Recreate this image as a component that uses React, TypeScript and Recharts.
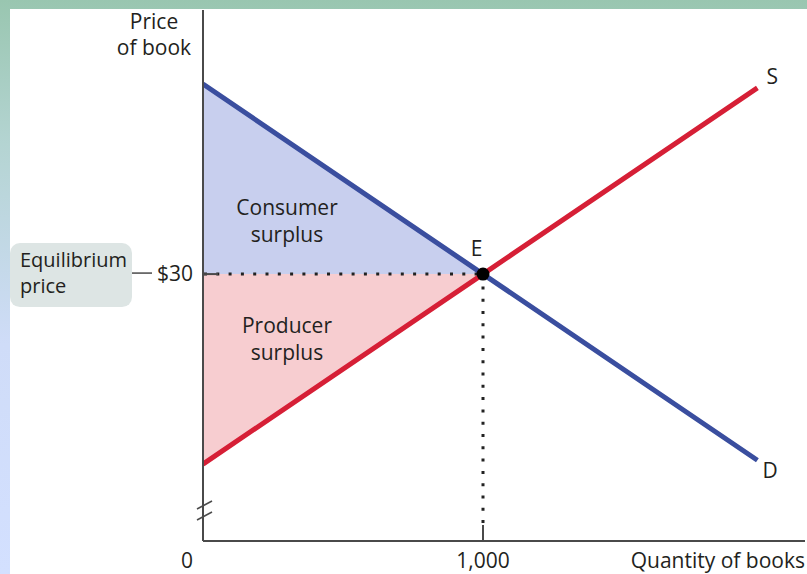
import { ComposedChart, Line, Area, XAxis, YAxis, ReferenceLine, ReferenceDot, Label } from 'recharts';

// quantity of books (x) and prices in $ (y)
const quantities = [0, 1000, 1980];
const demandPrices = [50, 30, 10.4];
const supplyPrices = [10, 30, 49.6];
const consumerSurplus = [[30, 50], [30, 30], null];
const producerSurplus = [[10, 30], [30, 30], null];

const xTicks = [0, 1000];
const xTickLabels = ['0', '1,000'];
const yTicks = [30];
const yTickLabels = ['$30'];

const equilibriumQty = 1000;
const equilibriumPrice = 30;

const data = quantities.map((q, i) => ({
  q,
  demand: demandPrices[i],
  supply: supplyPrices[i],
  cs: consumerSurplus[i],
  ps: producerSurplus[i],
}));

const FONT = '"Open Sans", sans-serif';
const FS = 21;
const TEXT = '#231f20';
const AXIS = '#4a4a4a';

const XTick = (props: any) => {
  const { x, y, index } = props;
  if (index === 0) {
    return (
      <text x={x - 16} y={y + 27} textAnchor="middle" fontSize={FS} fontFamily={FONT} fill={TEXT}>
        {xTickLabels[index]}
      </text>
    );
  }
  return (
    <g>
      <line x1={x} x2={x} y1={y - 16} y2={y} stroke={AXIS} strokeWidth={2} />
      <text x={x} y={y + 27} textAnchor="middle" fontSize={FS} fontFamily={FONT} fill={TEXT}>
        {xTickLabels[index]}
      </text>
    </g>
  );
};

const YTick = (props: any) => {
  const { x, y, index } = props;
  return (
    <g>
      <line x1={x} x2={x + 15} y1={y} y2={y} stroke={AXIS} strokeWidth={2} />
      <text x={x - 10} y={y + 7} textAnchor="end" fontSize={FS} fontFamily={FONT} fill={TEXT}>
        {yTickLabels[index]}
      </text>
      <line x1={x - 71} x2={x - 51} y1={y - 1} y2={y - 1} stroke={AXIS} strokeWidth={1.5} />
      <rect x={x - 193} y={y - 31} width={122} height={64} rx={10} fill="#dde5e4" />
      <text x={x - 183} y={y - 7} fontSize={20} fontFamily={FONT} fill={TEXT}>Equilibrium</text>
      <text x={x - 183} y={y + 19} fontSize={20} fontFamily={FONT} fill={TEXT}>price</text>
    </g>
  );
};

const YAxisTitle = (props: any) => {
  const { x, y, width, height } = props.viewBox;
  const ax = x + width;
  const bottom = y + height;
  return (
    <g>
      <text x={ax - 49} y={y + 19} textAnchor="middle" fontSize={FS} fontFamily={FONT} fill={TEXT}>Price</text>
      <text x={ax - 49} y={y + 45} textAnchor="middle" fontSize={FS} fontFamily={FONT} fill={TEXT}>of book</text>
      {/* axis break */}
      <line x1={ax - 6} y1={bottom - 32} x2={ax + 9} y2={bottom - 40} stroke={AXIS} strokeWidth={1.5} />
      <line x1={ax - 6} y1={bottom - 21} x2={ax + 9} y2={bottom - 29} stroke={AXIS} strokeWidth={1.5} />
    </g>
  );
};

const XAxisTitle = (props: any) => {
  const { x, y, width } = props.viewBox;
  return (
    <text x={x + width} y={y + 27} textAnchor="end" fontSize={FS} fontFamily={FONT} fill={TEXT}>
      Quantity of books
    </text>
  );
};

const TwoLines = (props: any) => {
  const { viewBox, lines } = props;
  return (
    <g>
      <text x={viewBox.x} y={viewBox.y} textAnchor="middle" fontSize={21} fontFamily={FONT} fill={TEXT}>{lines[0]}</text>
      <text x={viewBox.x} y={viewBox.y + 27} textAnchor="middle" fontSize={21} fontFamily={FONT} fill={TEXT}>{lines[1]}</text>
    </g>
  );
};

const CurveName = (props: any) => {
  const { viewBox, name, dx, dy, anchor } = props;
  return (
    <text x={viewBox.x + dx} y={viewBox.y + dy} textAnchor={anchor || 'start'} fontSize={21} fontFamily={FONT} fill={TEXT}>
      {name}
    </text>
  );
};

const App = () => {
  const last = quantities.length - 1;
  return (
    <div style={{ position: 'absolute', left: 0, top: 0, width: 807, height: 574, background: 'linear-gradient(to bottom, #99c6b0 0%, #b4d4d2 25%, #cfdcf8 60%, #d3e0ff 100%)' }}>
      <div style={{ position: 'absolute', left: 10, top: 9, width: 797, height: 565, background: '#fff' }} />
      <div style={{ position: 'absolute', left: 0, top: 0 }}>
        <ComposedChart width={807} height={574} data={data} margin={{ top: 10, right: 2, left: 143, bottom: 0 }}>
          <XAxis
            dataKey="q"
            type="number"
            domain={[0, 2150]}
            ticks={xTicks}
            allowDataOverflow
            height={33}
            tickSize={0}
            tickMargin={0}
            tickLine={false}
            axisLine={{ stroke: AXIS, strokeWidth: 2 }}
            tick={<XTick />}
            label={<Label content={<XAxisTitle />} />}
          />
          <YAxis
            type="number"
            domain={[1.9, 57.8]}
            ticks={yTicks}
            allowDataOverflow
            width={60}
            tickSize={0}
            tickMargin={0}
            tickLine={false}
            axisLine={{ stroke: AXIS, strokeWidth: 2 }}
            tick={<YTick />}
            label={<Label content={<YAxisTitle />} />}
          />
          <Area dataKey="cs" type="linear" fill="#c8cfee" fillOpacity={1} stroke="none" isAnimationActive={false} />
          <Area dataKey="ps" type="linear" fill="#f7cdd0" fillOpacity={1} stroke="none" isAnimationActive={false} />
          <ReferenceLine
            segment={[{ x: 0, y: equilibriumPrice }, { x: equilibriumQty, y: equilibriumPrice }]}
            stroke="#222"
            strokeWidth={3}
            strokeDasharray="3 9.3"
            strokeDashoffset={-1}
          />
          <ReferenceLine
            segment={[{ x: equilibriumQty, y: equilibriumPrice }, { x: equilibriumQty, y: 3.8 }]}
            stroke="#222"
            strokeWidth={3}
            strokeDasharray="3 9.3"
          />
          <Line dataKey="demand" type="linear" stroke="#3a4e9f" strokeWidth={5} dot={false} activeDot={false} isAnimationActive={false} />
          <Line dataKey="supply" type="linear" stroke="#d61f36" strokeWidth={5} dot={false} activeDot={false} isAnimationActive={false} />
          <ReferenceDot x={300} y={36.2} r={0} fill="none" stroke="none" label={<TwoLines lines={['Consumer', 'surplus']} />} />
          <ReferenceDot x={300} y={23.8} r={0} fill="none" stroke="none" label={<TwoLines lines={['Producer', 'surplus']} />} />
          <ReferenceDot x={quantities[last]} y={supplyPrices[last]} r={0} fill="none" stroke="none" label={<CurveName name="S" dx={9} dy={-4} />} />
          <ReferenceDot x={quantities[last]} y={demandPrices[last]} r={0} fill="none" stroke="none" label={<CurveName name="D" dx={5} dy={18} />} />
          <ReferenceDot
            x={equilibriumQty}
            y={equilibriumPrice}
            r={6.5}
            fill="#000"
            stroke="none"
            label={<CurveName name="E" dx={0} dy={-12} anchor="middle" />}
          />
        </ComposedChart>
      </div>
    </div>
  );
};

export default App;
